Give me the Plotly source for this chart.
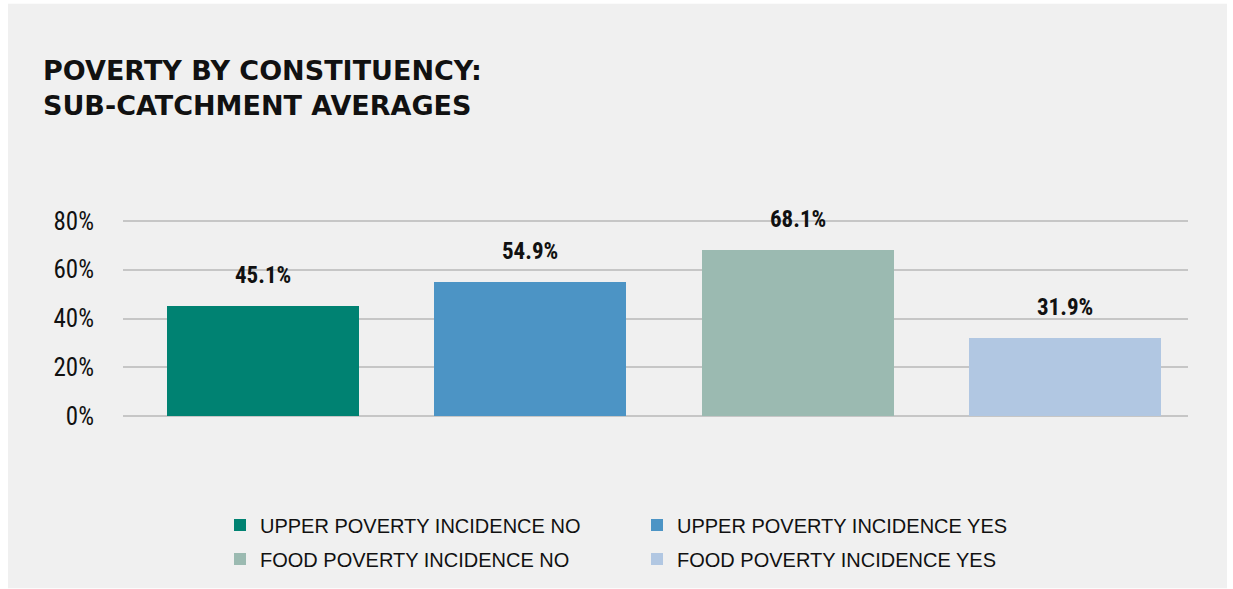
import plotly.graph_objects as go

categories = ["UPPER POVERTY INCIDENCE NO", "UPPER POVERTY INCIDENCE YES",
              "FOOD POVERTY INCIDENCE NO", "FOOD POVERTY INCIDENCE YES"]
values = [45.1, 54.9, 68.1, 31.9]
colors = ["#008272", "#4c94c5", "#9bbab1", "#b1c7e2"]
tick_vals = [0, 20, 40, 60, 80]
tick_text = ["0%", "20%", "40%", "60%", "80%"]

NARROW = "Liberation Sans Narrow, Arial Narrow, Roboto Condensed, Liberation Sans, sans-serif"
W, H = 1233, 589
L, R, T, B = 123, 45, 218.1, 170.1
Y0, Y1 = -1.2, 81.2

fig = go.Figure()
for i, (cat, val, col) in enumerate(zip(categories, values, colors)):
    fig.add_trace(go.Bar(
        x=[i], y=[val], name=cat, width=0.718,
        marker=dict(color=col, line=dict(width=0)),
        legend="legend" if i < 2 else "legend2",
        hoverinfo="skip",
    ))
    fig.add_annotation(
        x=i, y=val, xref="x", yref="y", text=f"{val:.1f}%",
        showarrow=False, yanchor="bottom", yshift=15,
        font=dict(family=NARROW, size=23, color="#111111", weight="bold"),
    )

def py(pix):
    # convert a pixel row to paper y
    return 1 - (pix - T) / (H - T - B)

def px(pix):
    return (pix - L) / (W - L - R)

legend_common = dict(
    orientation="h", xanchor="left", yanchor="middle", yref="container",
    entrywidth=372, entrywidthmode="pixels",
    font=dict(family="Liberation Sans, Arial, sans-serif", size=20, color="#111111"),
    bgcolor="rgba(0,0,0,0)",
)

fig.update_layout(
    width=W, height=H,
    paper_bgcolor="white", plot_bgcolor="#f0f0f0",
    margin=dict(l=L, r=R, t=T, b=B),
    barmode="overlay",
    bargap=0,
    xaxis=dict(range=[-0.524, 3.46], showticklabels=False, showgrid=False,
               zeroline=False, fixedrange=True),
    yaxis=dict(range=[Y0, Y1], tickvals=tick_vals, ticktext=tick_text,
               showgrid=True, gridcolor="#c6c6c6", gridwidth=2,
               zeroline=False, ticks="", ticklabelstandoff=28,
               tickfont=dict(family=NARROW, size=25, color="#111111")),
    legend=dict(x=px(220), y=1 - 525 / H, **legend_common),
    legend2=dict(x=px(220), y=1 - 559 / H, **legend_common),
    showlegend=True,
)

# grey panel background
fig.add_shape(type="rect", xref="paper", yref="paper",
              x0=px(8), x1=px(1227), y0=py(588), y1=py(4),
              fillcolor="#f0f0f0", line=dict(width=0), layer="below")

fig.add_annotation(
    text="POVERTY BY CONSTITUENCY:<br>SUB-CATCHMENT AVERAGES",
    xref="paper", yref="paper",
    x=px(41), y=py(53),
    xanchor="left", yanchor="top", align="left", showarrow=False,
    font=dict(family="DejaVu Sans, sans-serif", size=27, color="#111111", weight="bold"),
)

fig.write_html("out.html")
